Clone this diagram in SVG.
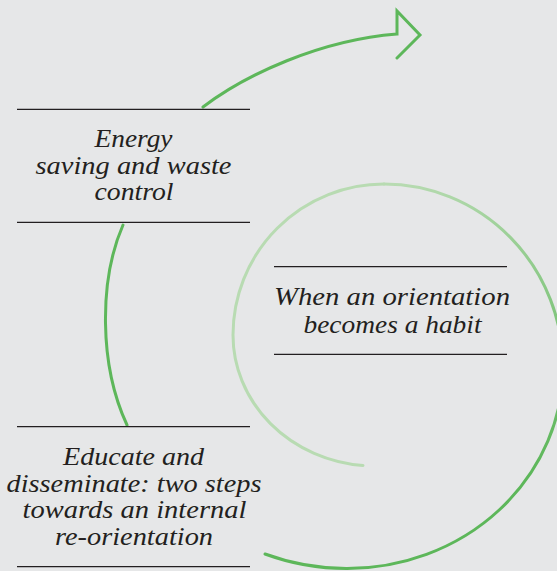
<svg xmlns="http://www.w3.org/2000/svg" width="557" height="571" viewBox="0 0 557 571">
  <defs>
    <style>
      .rule { stroke: #231f20; stroke-width: 1.3; fill: none; }
      .label { font-family: "Liberation Serif", "Times New Roman", serif; font-style: italic; font-size: 26px; fill: #231f20; text-anchor: middle; }
      .arc { fill: none; stroke-width: 3; stroke-linecap: round; stroke-linejoin: miter; }
      .dark { stroke: #5db75a; }
      .light { stroke: #b8dbb2; }
    </style>
    <!-- colour shift from the pale inner turn to the full green outer turn -->
    <linearGradient id="turnShade" gradientUnits="userSpaceOnUse" x1="400" y1="180" x2="540" y2="470">
      <stop offset="0" stop-color="#b8dbb2"/>
      <stop offset="1" stop-color="#5db75a"/>
    </linearGradient>
  </defs>

  <rect width="557" height="571" fill="#e6e7e8"/>

  <!-- spiral connector, built from quarter ellipses joined at their extreme points -->
  <g id="connectors">
    <!-- pale inner turn: bottom start, round the left, up to the top -->
    <path class="arc light" d="M363,465.5 A142,131 0 0 1 233,335 A151,151 0 0 1 384,184"/>
    <!-- shaded turn down the right side to the bottom -->
    <path class="arc" stroke="url(#turnShade)" d="M384,184 A179,183 0 0 1 563,367 A216,201.5 0 0 1 347,568.5"/>
    <!-- outer turn along the bottom, up to the lower label -->
    <path class="arc dark" d="M347,568.5 A242,248.5 0 0 1 265,554"/>
    <!-- left side between the two left labels -->
    <path class="arc dark" d="M127,425 C99,365 99,280 123,225"/>
    <!-- top sweep ending in the open arrowhead -->
    <path class="arc dark" d="M203,107 C245,75 320,40 397,34 L397,11 L420,35 L397,58"/>
  </g>

  <g id="node-energy">
    <line class="rule" x1="17" y1="109.3" x2="250" y2="109.3"/>
    <text class="label" x="133.5" y="147" textLength="78" lengthAdjust="spacingAndGlyphs">Energy</text>
    <text class="label" x="133.5" y="173.5" textLength="196" lengthAdjust="spacingAndGlyphs">saving and waste</text>
    <text class="label" x="134" y="200" textLength="79" lengthAdjust="spacingAndGlyphs">control</text>
    <line class="rule" x1="17" y1="222.3" x2="250" y2="222.3"/>
  </g>

  <g id="node-habit">
    <line class="rule" x1="274" y1="266.7" x2="507" y2="266.7"/>
    <text class="label" x="392" y="305" textLength="236" lengthAdjust="spacingAndGlyphs">When an orientation</text>
    <text class="label" x="392.5" y="332.5" textLength="178" lengthAdjust="spacingAndGlyphs">becomes a habit</text>
    <line class="rule" x1="274" y1="354.3" x2="507" y2="354.3"/>
  </g>

  <g id="node-educate">
    <line class="rule" x1="17" y1="426.7" x2="250" y2="426.7"/>
    <text class="label" x="133.5" y="465" textLength="141" lengthAdjust="spacingAndGlyphs">Educate and</text>
    <text class="label" x="134" y="491.5" textLength="255" lengthAdjust="spacingAndGlyphs">disseminate: two steps</text>
    <text class="label" x="134.5" y="518.3" textLength="224" lengthAdjust="spacingAndGlyphs">towards an internal</text>
    <text class="label" x="134" y="545" textLength="158" lengthAdjust="spacingAndGlyphs">re-orientation</text>
    <line class="rule" x1="17" y1="566.7" x2="250" y2="566.7"/>
  </g>
</svg>
